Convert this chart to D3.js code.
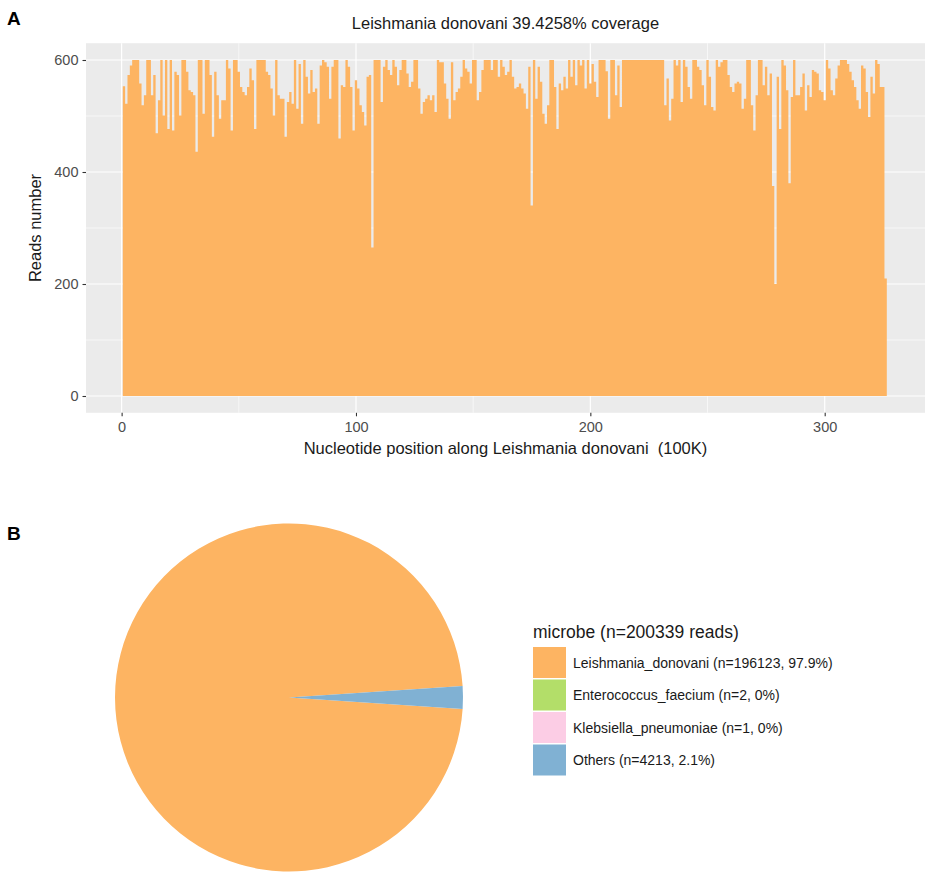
<!DOCTYPE html>
<html>
<head>
<meta charset="utf-8">
<script src="https://cdn.jsdelivr.net/npm/d3@7"></script>
<style>
  html, body { margin: 0; padding: 0; background: #ffffff; }
  svg { display: block; font-family: "Liberation Sans", Arial, Helvetica, sans-serif; }
</style>
</head>
<body>
<svg id="chart" width="935" height="883"></svg>
<script>
// ---------------- DATA ----------------
const chartTitle = "Leishmania donovani 39.4258% coverage";
const xAxisTitle = "Nucleotide position along Leishmania donovani  (100K)";
const yAxisTitle = "Reads number";
const xTicks = [0, 100, 200, 300];
const xMinorTicks = [50, 150, 250];
const yTicks = [0, 200, 400, 600];
const yMinorTicks = [100, 300, 500];

// reads per 100K window (window 1..326)
const reads = [
  553,522,573,590,600,600,600,558,519,537,
  600,600,537,573,469,528,600,501,600,477,
  600,474,579,573,501,600,600,579,546,543,
  537,436,600,600,504,600,600,573,463,579,
  537,495,528,528,600,585,474,600,600,579,
  552,543,537,552,585,564,477,600,600,600,
  600,579,573,549,501,
  600,537,531,531,463,
  525,543,522,600,513,593,486,600,570,540,
  582,543,549,486,590,600,596,588,531,588,
  600,600,460,555,552,600,588,552,474,564,
  549,519,507,483,570,573,265,600,600,600,
  525,588,600,582,573,600,588,555,582,600,
  600,576,552,561,600,600,549,504,525,531,537,
  528,537,507,600,596,596,558,531,495,
  596,528,543,549,570,600,585,579,558,600,
  600,528,543,582,600,600,600,582,600,600,
  570,600,588,573,579,600,570,549,552,558,
  549,540,513,588,340,600,531,588,561,504,
  486,519,600,600,552,477,558,546,570,549,
  600,570,600,555,600,590,600,549,
  600,558,
  593,561,534,600,600,600,580,495,600,600,537,590,516,
  600,600,600,600,600,600,600,600,600,600,600,600,600,600,600,600,600,
  600,519,567,492,531,600,590,600,525,600,
  588,552,531,600,600,588,582,555,519,600,
  570,516,510,600,588,596,600,600,573,552,
  543,558,561,558,513,531,
  600,600,519,474,
  537,600,600,555,588,537,576,375,200,570,
  477,600,590,546,380,534,600,537,537,552,
  576,510,555,534,582,579,576,546,543,528,
  600,585,546,537,567,590,600,600,600,593,
  579,564,552,528,513,590,585,543,498,570,
  540,600,593,552,552,210
];
const windows = reads.map((_, i) => i + 1);

const legendTitle = "microbe (n=200339 reads)";
const microbes = ["Leishmania_donovani", "Enterococcus_faecium", "Klebsiella_pneumoniae", "Others"];
const microbeCounts = [196123, 2, 1, 4213];
const microbePct = ["97.9%", "0%", "0%", "2.1%"];
const microbeColors = ["#FDB462", "#B3DE69", "#FCCDE5", "#80B1D3"];

// ---------------- DRAW ----------------
const svg = d3.select("#chart");
const barColor = "#FDB462";

// Panel A
const panel = { left: 86, right: 925, top: 43.2, bottom: 412.8 };
const x = d3.scaleLinear().domain([-15.2, 342.8]).range([panel.left, panel.right]);
const y = d3.scaleLinear().domain([-30, 630]).range([panel.bottom, panel.top]);

svg.append("text").attr("x", 7).attr("y", 25).text("A")
  .attr("font-size", 19).attr("font-weight", "bold").attr("fill", "#000");

svg.append("rect")
  .attr("x", panel.left).attr("y", panel.top)
  .attr("width", panel.right - panel.left).attr("height", panel.bottom - panel.top)
  .attr("fill", "#EBEBEB");

const grid = svg.append("g");
grid.selectAll("line.ymin").data(yMinorTicks).join("line")
  .attr("x1", panel.left).attr("x2", panel.right)
  .attr("y1", d => y(d)).attr("y2", d => y(d))
  .attr("stroke", "#fff").attr("stroke-width", 0.6);
grid.selectAll("line.xmin").data(xMinorTicks).join("line")
  .attr("y1", panel.top).attr("y2", panel.bottom)
  .attr("x1", d => x(d)).attr("x2", d => x(d))
  .attr("stroke", "#fff").attr("stroke-width", 0.6);
grid.selectAll("line.ymaj").data(yTicks).join("line")
  .attr("x1", panel.left).attr("x2", panel.right)
  .attr("y1", d => y(d)).attr("y2", d => y(d))
  .attr("stroke", "#fff").attr("stroke-width", 1.2);
grid.selectAll("line.xmaj").data(xTicks).join("line")
  .attr("y1", panel.top).attr("y2", panel.bottom)
  .attr("x1", d => x(d)).attr("x2", d => x(d))
  .attr("stroke", "#fff").attr("stroke-width", 1.2);

// bars: contiguous 1-unit-wide bars drawn as one stepped area (no seams)
const barPts = windows.map((w, i) => ({ x0: w - 0.5, v: reads[i] }));
barPts.push({ x0: windows[windows.length - 1] + 0.5, v: reads[reads.length - 1] });
const barArea = d3.area()
  .x(d => x(d.x0))
  .y0(y(0))
  .y1(d => y(d.v))
  .curve(d3.curveStepAfter);
svg.append("path").datum(barPts).attr("d", barArea).attr("fill", barColor);

// axes
const xAxis = d3.axisBottom(x).tickValues(xTicks).tickSize(3.5).tickPadding(5);
const gx = svg.append("g").attr("transform", `translate(0,${panel.bottom})`).call(xAxis);
gx.select(".domain").remove();
gx.selectAll(".tick line").attr("stroke", "#333").attr("stroke-width", 1.1);
gx.selectAll(".tick text").attr("fill", "#4D4D4D").attr("font-size", 14.5)
  .attr("font-family", "'Liberation Sans', Arial, sans-serif");

const yAxis = d3.axisLeft(y).tickValues(yTicks).tickSize(3.5).tickPadding(4);
const gy = svg.append("g").attr("transform", `translate(${panel.left},0)`).call(yAxis);
gy.select(".domain").remove();
gy.selectAll(".tick line").attr("stroke", "#333").attr("stroke-width", 1.1);
gy.selectAll(".tick text").attr("fill", "#4D4D4D").attr("font-size", 14.5)
  .attr("font-family", "'Liberation Sans', Arial, sans-serif");

svg.append("text").attr("x", (panel.left + panel.right) / 2).attr("y", 29)
  .attr("text-anchor", "middle").attr("font-size", 16.5).attr("fill", "#1a1a1a")
  .text(chartTitle);
svg.append("text").attr("x", (panel.left + panel.right) / 2).attr("y", 454)
  .attr("text-anchor", "middle").attr("font-size", 16.5).attr("fill", "#1a1a1a")
  .attr("xml:space", "preserve").style("white-space", "pre")
  .text(xAxisTitle);
svg.append("text").attr("transform", `translate(41,${(panel.top + panel.bottom) / 2}) rotate(-90)`)
  .attr("text-anchor", "middle").attr("font-size", 16.5).attr("fill", "#1a1a1a")
  .text(yAxisTitle);

// Panel B
svg.append("text").attr("x", 7).attr("y", 540).text("B")
  .attr("font-size", 19).attr("font-weight", "bold").attr("fill", "#000");

const cx = 289, cy = 697.5, r = 174;
const total = d3.sum(microbeCounts);
const othersAngle = 2 * Math.PI * microbeCounts[3] / total;
const start = Math.PI / 2 - (2 * Math.PI - othersAngle / 2);
const pie = d3.pie().sort(null).value(d => d).startAngle(start).endAngle(start + 2 * Math.PI);
const arc = d3.arc().innerRadius(0).outerRadius(r);
svg.append("g").attr("transform", `translate(${cx},${cy})`)
  .selectAll("path").data(pie(microbeCounts)).join("path")
  .attr("d", arc)
  .attr("fill", (d, i) => microbeColors[i]);

// legend
const lg = svg.append("g").attr("transform", "translate(533,0)");
lg.append("text").attr("x", 0).attr("y", 638).attr("font-size", 17.5).attr("fill", "#1a1a1a")
  .text(legendTitle);
const keyTop = 647, keyPitch = 32.5, keyW = 33, keyH = 31;
microbes.forEach((m, i) => {
  lg.append("rect").attr("x", 0).attr("y", keyTop + i * keyPitch)
    .attr("width", keyW).attr("height", keyH).attr("fill", microbeColors[i]);
  lg.append("text").attr("x", keyW + 7).attr("y", keyTop + i * keyPitch + keyH / 2 + 5)
    .attr("font-size", 14).attr("fill", "#1a1a1a")
    .text(`${m} (n=${microbeCounts[i]}, ${microbePct[i]})`);
});
</script>
</body>
</html>
